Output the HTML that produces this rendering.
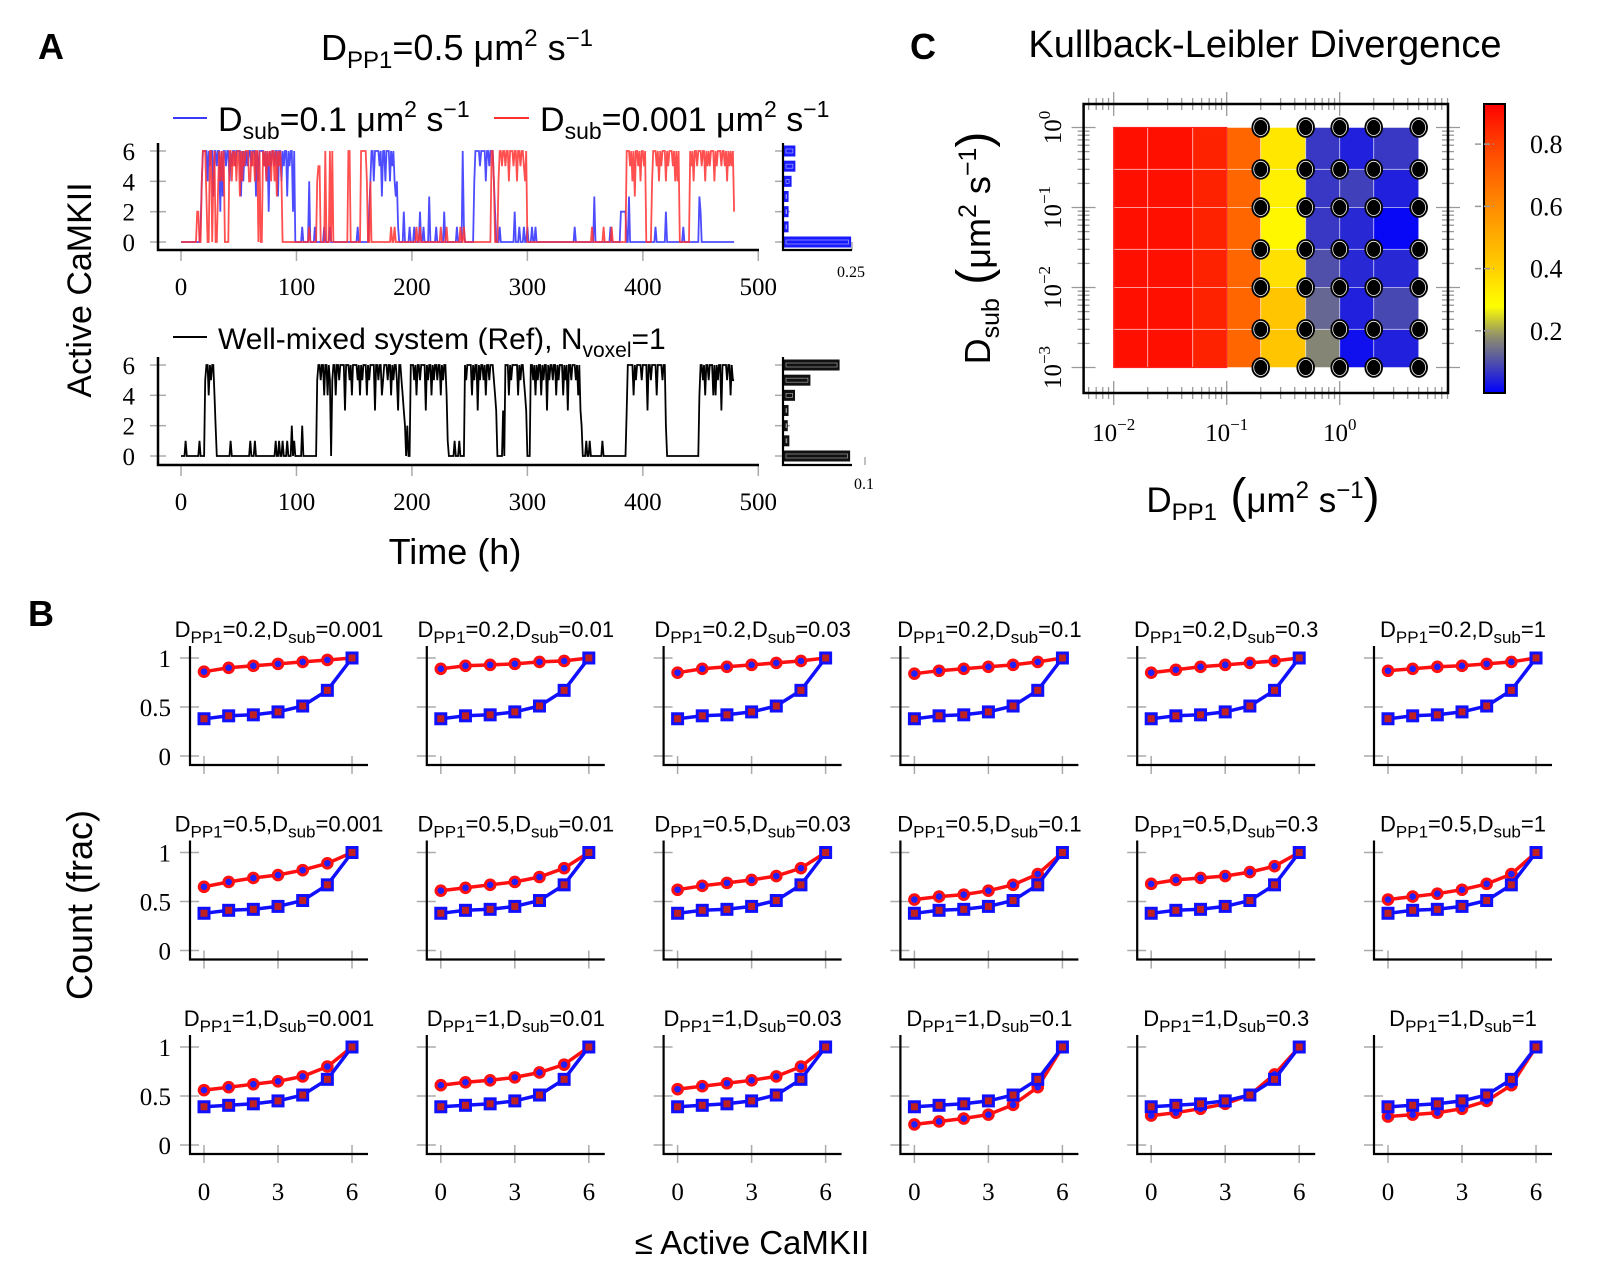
<!DOCTYPE html>
<html><head><meta charset="utf-8">
<style>
body{margin:0;background:#fff;}
svg{display:block;}
text{font-family:"Liberation Sans",sans-serif;fill:#000;}
.serif{font-family:"Liberation Serif",serif;}
</style></head>
<body>
<svg id="fig" width="1622" height="1281" viewBox="0 0 1622 1281">
<rect width="1622" height="1281" fill="#fff"/>

<!-- Panel A static text -->
<text x="38" y="59" font-size="36" font-weight="bold">A</text>
<text x="457" y="60" font-size="36" text-anchor="middle">D<tspan font-size="24" dy="8">PP1</tspan><tspan dy="-8">=0.5 μm</tspan><tspan font-size="24" dy="-14">2</tspan><tspan dy="14"> s</tspan><tspan font-size="24" dy="-14">−1</tspan></text>
<line x1="173" y1="118" x2="207" y2="118" stroke="#3a3aff" stroke-width="2"/>
<text x="218" y="131" font-size="34">D<tspan font-size="23" dy="8">sub</tspan><tspan dy="-8">=0.1 μm</tspan><tspan font-size="23" dy="-14">2</tspan><tspan dy="14"> s</tspan><tspan font-size="23" dy="-14">−1</tspan></text>
<line x1="494" y1="118" x2="529" y2="118" stroke="#ff3030" stroke-width="2"/>
<text x="540" y="131" font-size="34">D<tspan font-size="23" dy="8">sub</tspan><tspan dy="-8">=0.001 μm</tspan><tspan font-size="23" dy="-14">2</tspan><tspan dy="14"> s</tspan><tspan font-size="23" dy="-14">−1</tspan></text>
<line x1="173" y1="337" x2="207" y2="337" stroke="#000" stroke-width="2"/>
<text x="218" y="349" font-size="30">Well-mixed system (Ref), N<tspan font-size="21" dy="8">voxel</tspan><tspan dy="-8">=1</tspan></text>
<text transform="translate(91,290) rotate(-90)" font-size="34" text-anchor="middle">Active CaMKII</text>
<text x="455" y="564" font-size="36" text-anchor="middle">Time (h)</text>
<text x="851" y="277" font-size="16" text-anchor="middle" class="serif">0.25</text>
<text x="864" y="489" font-size="16" text-anchor="middle" class="serif">0.1</text>

<!-- Panel C static text -->
<text x="910" y="59" font-size="36" font-weight="bold">C</text>
<text x="1265" y="57" font-size="38" text-anchor="middle">Kullback-Leibler Divergence</text>
<text transform="translate(990,248) rotate(-90)" font-size="36" text-anchor="middle">D<tspan font-size="25" dy="9">sub</tspan><tspan dy="-9" font-size="48"> (</tspan><tspan>μm</tspan><tspan font-size="25" dy="-14">2</tspan><tspan dy="14"> s</tspan><tspan font-size="25" dy="-14">−1</tspan><tspan dy="14" font-size="48">)</tspan></text>
<text x="1263" y="512" font-size="35" text-anchor="middle">D<tspan font-size="24" dy="8">PP1</tspan><tspan dy="-8" font-size="48"> (</tspan><tspan>μm</tspan><tspan font-size="24" dy="-14">2</tspan><tspan dy="14"> s</tspan><tspan font-size="24" dy="-14">−1</tspan><tspan dy="14" font-size="48">)</tspan></text>

<!-- Panel B static text -->
<text x="28" y="626" font-size="36" font-weight="bold">B</text>
<text transform="translate(92,905) rotate(-90)" font-size="36" text-anchor="middle">Count (frac)</text>
<text x="752" y="1254" font-size="33" text-anchor="middle">≤ Active CaMKII</text>

<defs>
<linearGradient id="cbgrad" x1="0" y1="1" x2="0" y2="0"></linearGradient>
</defs>
</svg>

<script>
// ---------- Panel A data ----------
const blueStr = "0000000000"+"0000000146"+"6664656636"+"6566263665"+"6646566566"+"6636465656"+"6566636466"+"6656462656"+"6566366465"+"6636566260"+
"0000010000"+"0400001000"+"0000100001"+"0000000000"+"0000000000"+"0001000000"+"0002466466"+"6656366466"+"6465643410"+"0002000010"+
"0010000200"+"1000030000"+"0100000020"+"0000000001"+"0000610000"+"0000466665"+"6666466566"+"6420001000"+"0000000002"+"0001000100"+
"1000100100"+"0000000000"+"0000000000"+"0000000000"+"0100000000"+"0000000030"+"0000000000"+"0010000000"+"0222220030"+"0000000000"+
"0000000000"+"0100000000"+"2000000000"+"0000010000"+"0000000003"+"2000000000"+"0000000000"+"0000000000";
const redStr = "0000000000"+"0000220046"+"6630066046"+"0036464600"+"0066465646"+"6364656664"+"4656466060"+"0656465646"+"6463656400"+"0000000000"+
"0000000000"+"0100000045"+"5000060006"+"0600000000"+"0000066000"+"0000006666"+"6400400000"+"0000000000"+"0010010000"+"0000000000"+
"0000100100"+"0000000000"+"0000010000"+"1000000000"+"0010010000"+"0000000000"+"0000000006"+"6400046656"+"6566466656"+"6466566546"+
"0000000000"+"0000000000"+"0000000000"+"0000000000"+"0000000000"+"0000001000"+"0000001000"+"0001000000"+"0000006665"+"6463665646"+
"6560000046"+"6656465666"+"4656665646"+"4600000000"+"0656466566"+"6566465656"+"6646566656"+"6564656562";
const blackStr = "0000100000"+"0000001000"+"0566465664"+"2000000000"+"0001000000"+"0000000000"+"1000100000"+"0000000000"+"0010010010"+"0010002010"+
"0000020000"+"0000000056"+"6566466465"+"0566466566"+"6636665646"+"6665646566"+"6465666636"+"6566456665"+"6646566536"+"6543202006"+
"6656466566"+"6636566465"+"6656646566"+"4100000100"+"0100006566"+"6646566365"+"6656466566"+"6543000003"+"0666465666"+"6646566543"+
"0006656465"+"6646566365"+"6656646566"+"6465636656"+"6656463200"+"0100100000"+"0000010000"+"0000000000"+"0000003666"+"6646566665"+
"6666366566"+"6646666566"+"2000000000"+"0000000000"+"0000000004"+"6656466566"+"6464656636"+"6665664655";
const histLevels = [0,1,2,3,4,5,6];
const blueHist = [0.245,0.015,0.015,0.015,0.026,0.04,0.04];
const blackHist = [0.081,0.006,0.004,0.005,0.013,0.032,0.068];
const timeTicks = [0,100,200,300,400,500];
const levelTicks = [0,2,4,6];

// ---------- Panel B data ----------
const bDpp1 = ["0.2","0.5","1"];
const bDsub = ["0.001","0.01","0.03","0.1","0.3","1"];
const bLevels = [0,1,2,3,4,5,6];
const bXTicks = [0,3,6];
const bYTicks = [0,0.5,1];
const bYTickLabels = ["0","0.5","1"];
const blueCumRow1 = [0.38,0.41,0.42,0.45,0.51,0.67,1.0];
const blueCumRow2 = [0.38,0.41,0.42,0.45,0.51,0.67,1.0];
const blueCumRow3 = [0.39,0.405,0.42,0.45,0.51,0.67,1.0];
const redCumRow1 = [
 [0.86,0.90,0.92,0.94,0.96,0.98,1.0],
 [0.89,0.92,0.93,0.94,0.96,0.97,1.0],
 [0.85,0.89,0.91,0.93,0.95,0.97,1.0],
 [0.84,0.87,0.89,0.91,0.93,0.96,1.0],
 [0.85,0.88,0.91,0.93,0.95,0.97,1.0],
 [0.87,0.89,0.91,0.92,0.94,0.96,1.0]];
const redCumRow2 = [
 [0.65,0.70,0.74,0.77,0.82,0.89,1.0],
 [0.61,0.64,0.67,0.70,0.75,0.84,1.0],
 [0.62,0.66,0.69,0.72,0.76,0.84,1.0],
 [0.52,0.55,0.57,0.61,0.67,0.78,1.0],
 [0.68,0.72,0.74,0.76,0.80,0.86,1.0],
 [0.52,0.55,0.58,0.62,0.68,0.78,1.0]];
const redCumRow3 = [
 [0.56,0.59,0.62,0.65,0.70,0.80,1.0],
 [0.61,0.64,0.66,0.69,0.74,0.82,1.0],
 [0.57,0.60,0.63,0.66,0.70,0.80,1.0],
 [0.21,0.24,0.27,0.31,0.41,0.59,1.0],
 [0.30,0.33,0.37,0.42,0.51,0.72,1.0],
 [0.29,0.31,0.33,0.37,0.45,0.61,1.0]];

// ---------- Panel C data ----------
const klX = [0.01,0.02,0.05,0.1,0.2,0.5,1,2,5];
const klY = [0.001,0.003,0.01,0.03,0.1,0.3,1];
const klRow1 = [0.9,0.9,0.86,0.7,0.43,0.17,0.02,0.04];   // Dsub 0.001-0.003
const klRow2 = [0.9,0.9,0.86,0.7,0.43,0.13,0.04,0.09];
const klRow3 = [0.9,0.9,0.86,0.7,0.36,0.10,0.05,0.05];
const klRow4 = [0.9,0.9,0.86,0.7,0.30,0.07,0.05,0.01];
const klRow5 = [0.9,0.9,0.86,0.7,0.32,0.07,0.08,0.04];
const klRow6 = [0.9,0.9,0.86,0.7,0.34,0.07,0.04,0.07];   // Dsub 0.3-1
const dotX = [0.2,0.5,1,2,5];
const dotY = [0.001,0.003,0.01,0.03,0.1,0.3,1];
const cbTicks = [0.2,0.4,0.6,0.8];
const cbLabels = ["0.2","0.4","0.6","0.8"];
const xDecades = [-2,-1,0];
const yDecades = [-3,-2,-1,0];

const NS = "http://www.w3.org/2000/svg";
const svg = document.getElementById("fig");
function mk(tag, attrs, parent){
  const e = document.createElementNS(NS, tag);
  for (const k in attrs) e.setAttribute(k, attrs[k]);
  (parent || svg).appendChild(e);
  return e;
}
function grp(){ return mk("g", {}); }

// ================= PANEL A =================
const xA = t => 181 + t * 1.1546;
const yTop = v => 242 - v * (91/6);
const yBot = v => 456 - v * (91/6);

function drawAxesA(yf, axisTop, axisY, name){
  const g = grp();
  
  
  timeTicks.forEach(t => {
    const l = mk("line", {x1:xA(t), x2:xA(t), y1:axisY, y2:axisY+11, stroke:"#aaa", "stroke-width":1.5}, g);
    
    
    const tx = mk("text", {x:xA(t), y:axisY+45, "font-size":25, "text-anchor":"middle", class:"serif"}, g);
    
    
    tx.textContent = t;
  });
  levelTicks.forEach(v => {
    const l = mk("line", {x1:150, x2:166, y1:yf(v), y2:yf(v), stroke:"#aaa", "stroke-width":1.5}, g);
    
    
    const tx = mk("text", {x:135, y:yf(v)+9, "font-size":25, "text-anchor":"end", class:"serif"}, g);
    
    
    tx.textContent = v;
  });
  const ax = mk("path", {d:`M158 ${axisTop} V${axisY} H759`, fill:"none", stroke:"#000", "stroke-width":2.5}, g);
  
  
}
drawAxesA(yTop, 143, 250, 'top-timeseries-axes');
drawAxesA(yBot, 357, 465, 'bottom-timeseries-axes');

function seriesPts(str, yf){
  const pts = [];
  for (let i = 0; i < str.length; i++) pts.push(xA(i).toFixed(1) + "," + yf(+str[i]).toFixed(1));
  return pts.join(" ");
}
const bl = mk("polyline", {points:seriesPts(blueStr, yTop), fill:"none", stroke:"#3a3aff", "stroke-width":1.8, "stroke-opacity":0.9, "stroke-linejoin":"miter"});


const rl = mk("polyline", {points:seriesPts(redStr, yTop), fill:"none", stroke:"#ff3030", "stroke-width":1.8, "stroke-opacity":0.85});


const kl = mk("polyline", {points:seriesPts(blackStr, yBot), fill:"none", stroke:"#000", "stroke-width":1.8});



// histograms
function drawHist(vals, yf, axisTop, axisY, scalePx, tickVal, color, name){
  const g = grp();
  
  
  const hx = p => 784 + p * scalePx;
  levelTicks.forEach(v => {
    const l = mk("line", {x1:775, x2:790, y1:yf(v), y2:yf(v), stroke:"#aaa", "stroke-width":1.5}, g);
    
    
  });
  const tk = mk("line", {x1:hx(tickVal), x2:hx(tickVal), y1:axisY-8, y2:axisY, stroke:"#aaa", "stroke-width":1.5}, g);
  
  
  histLevels.forEach((lv, i) => {
    const r = mk("rect", {x:784, y:yf(lv)-5, width:Math.max(hx(vals[i])-784,3), height:10, fill:color, stroke:color, "stroke-width":1}, g);
    
    
    const ir = mk("rect", {x:786, y:yf(lv)-2, width:Math.max(hx(vals[i])-788,0.5), height:4, fill:"none", stroke:"#fff", "stroke-width":0.6, "stroke-opacity":0.7}, g);
    
    
  });
  const ax = mk("path", {d:`M783 ${axisTop} V${axisY} H852`, fill:"none", stroke:"#000", "stroke-width":2.2}, g);
  
  
}
drawHist(blueHist, yTop, 143, 250, 272, 0.25, "#1a1aff", 'top-histogram');
drawHist(blackHist, yBot, 357, 465, 810, 0.1, "#111", 'bottom-histogram');

// ================= PANEL B =================
const redRows = [redCumRow1, redCumRow2, redCumRow3];
const blueRows = [blueCumRow1, blueCumRow2, blueCumRow3];
for (let r = 0; r < 3; r++) {
  for (let c = 0; c < 6; c++) {
    const left = 190 + c * 236.8;
    const y1 = 658 + r * 194.5;
    const xs = v => left + 14 + v * 24.67;
    const ys = p => y1 + 98 - p * 98;
    const axisY = y1 + 107;
    const g = grp();
    
    
    const t = mk("text", {x:left+89, y:y1-21, "font-size":22, "text-anchor":"middle"}, g);
    
    
    t.innerHTML = 'D<tspan font-size="17" dy="6">PP1</tspan><tspan dy="-6">=' + bDpp1[r] + ',D</tspan><tspan font-size="17" dy="6">sub</tspan><tspan dy="-6">=' + bDsub[c] + '</tspan>';
    bYTicks.forEach((p, k) => {
      const l = mk("line", {x1:left-10, x2:left+9, y1:ys(p), y2:ys(p), stroke:"#aaa", "stroke-width":1.5}, g);
      
      
      if (c === 0) {
        const tx = mk("text", {x:left-19, y:ys(p)+9, "font-size":25, "text-anchor":"end", class:"serif"}, g);
        
        
        tx.textContent = bYTickLabels[k];
      }
    });
    bXTicks.forEach(v => {
      const l = mk("line", {x1:xs(v), x2:xs(v), y1:axisY-9, y2:axisY+9, stroke:"#aaa", "stroke-width":1.5}, g);
      
      
      if (r === 2) {
        const tx = mk("text", {x:xs(v), y:1200, "font-size":25, "text-anchor":"middle", class:"serif"}, g);
        
        
        tx.textContent = v;
      }
    });
    const ax = mk("path", {d:`M${left} ${y1-12} V${axisY} H${left+178}`, fill:"none", stroke:"#000", "stroke-width":2.2}, g);
    
    
    const red = redRows[r][c];
    const blue = blueRows[r];
    const rp = bLevels.map((lv,i) => xs(lv).toFixed(1)+","+ys(red[i]).toFixed(1)).join(" ");
    const rl2 = mk("polyline", {points:rp, fill:"none", stroke:"#ff1010", "stroke-width":3.5}, g);
    
    
    bLevels.forEach((lv,i) => {
      const cc = mk("circle", {cx:xs(lv), cy:ys(red[i]), r:4.8, fill:"#2020ff", stroke:"#ff1010", "stroke-width":3}, g);
      
      
    });
    const bp = bLevels.map((lv,i) => xs(lv).toFixed(1)+","+ys(blue[i]).toFixed(1)).join(" ");
    const bl2 = mk("polyline", {points:bp, fill:"none", stroke:"#1010ff", "stroke-width":3.5}, g);
    
    
    bLevels.forEach((lv,i) => {
      const sq = mk("rect", {x:xs(lv)-5, y:ys(blue[i])-5, width:10, height:10, fill:"#c02020", stroke:"#1010ff", "stroke-width":3}, g);
      
      
    });
  }
}

// ================= PANEL C =================
const cmapStops = [[0,0,0,255],[0.1,80,80,170],[0.18,140,140,110],[0.28,255,255,0],[0.42,255,200,0],[0.6,255,140,0],[0.8,255,64,0],[0.93,255,0,0]];
function cmap(v){
  if (v <= cmapStops[0][0]) return `rgb(${cmapStops[0][1]},${cmapStops[0][2]},${cmapStops[0][3]})`;
  for (let i = 1; i < cmapStops.length; i++) {
    if (v <= cmapStops[i][0]) {
      const a = cmapStops[i-1], b = cmapStops[i];
      const f = (v - a[0]) / (b[0] - a[0]);
      return `rgb(${Math.round(a[1]+f*(b[1]-a[1]))},${Math.round(a[2]+f*(b[2]-a[2]))},${Math.round(a[3]+f*(b[3]-a[3]))})`;
    }
  }
  const l = cmapStops[cmapStops.length-1];
  return `rgb(${l[1]},${l[2]},${l[3]})`;
}
const hxC = d => 1113.7 + (Math.log10(d) + 2) * 113;
const hyC = d => 127.5 - Math.log10(d) * 80;
const FX0 = 1083.6, FX1 = 1448, FY0 = 104, FY1 = 393;

const klRows = [klRow1, klRow2, klRow3, klRow4, klRow5, klRow6];
const hg = grp();


klRows.forEach((row, j) => {
  row.forEach((v, i) => {
    const x0 = hxC(klX[i]), x1 = hxC(klX[i+1]);
    const y0 = hyC(klY[j+1]), y1 = hyC(klY[j]);
    const cell = mk("rect", {x:x0, y:y0, width:x1-x0, height:y1-y0, fill:cmap(v), stroke:"#fff", "stroke-width":1, "stroke-opacity":0.45}, hg);
    
    
  });
});
const outline = mk("rect", {x:hxC(klX[0]), y:hyC(klY[klY.length-1]), width:hxC(klX[3])-hxC(klX[0]), height:hyC(klY[0])-hyC(klY[klY.length-1]), fill:"none", stroke:"#ff2020", "stroke-width":1.2});



const tg = grp();


for (let d = -3; d <= 1; d++) {
  for (let k = 1; k <= 9; k++) {
    const val = k * Math.pow(10, d);
    const len = k === 1 ? 12 : 6;
    const px = hxC(val);
    if (px >= FX0 && px <= FX1) {
      [FY0, FY1].forEach(yy => {
        const l = mk("line", {x1:px, x2:px, y1:yy-len, y2:yy+len, stroke:"#999", "stroke-width":1.3}, tg);
        
        
      });
    }
    const py = hyC(val);
    if (py >= FY0 && py <= FY1) {
      [FX0, FX1].forEach(xx => {
        const l = mk("line", {x1:xx-len, x2:xx+len, y1:py, y2:py, stroke:"#999", "stroke-width":1.3}, tg);
        
        
      });
    }
  }
}
const frame = mk("rect", {x:FX0, y:FY0, width:FX1-FX0, height:FY1-FY0, fill:"none", stroke:"#000", "stroke-width":2.5});



const dg = grp();


dotX.forEach(dx => dotY.forEach(dy => {
  const e = mk("ellipse", {cx:hxC(dx), cy:hyC(dy), rx:8.5, ry:9.5, fill:"#000", stroke:"#000", "stroke-width":1.5}, dg);
  
  
  const e2 = mk("ellipse", {cx:hxC(dx), cy:hyC(dy), rx:7, ry:8, fill:"none", stroke:"#fff", "stroke-width":0.8}, dg);
  
  
}));

xDecades.forEach(d => {
  const tx = mk("text", {x:hxC(Math.pow(10,d)), y:441, "font-size":25, "text-anchor":"middle", class:"serif"});
  
  
  tx.innerHTML = '10<tspan font-size="17" dy="-11">' + (d < 0 ? '−' + (-d) : d) + '</tspan>';
});
yDecades.forEach(d => {
  const tx = mk("text", {"font-size":25, "text-anchor":"middle", class:"serif", transform:`translate(1061,${hyC(Math.pow(10,d))}) rotate(-90)`});
  
  
  tx.innerHTML = '10<tspan font-size="17" dy="-11">' + (d < 0 ? '−' + (-d) : d) + '</tspan>';
});

const CB_X = 1484, CB_W = 21, CB_Y0 = 104, CB_Y1 = 393, CB_MAX = 0.929;
const cbY = v => CB_Y1 - v / CB_MAX * (CB_Y1 - CB_Y0);
const grad = document.getElementById("cbgrad");
for (let i = 0; i <= 40; i++) {
  const v = i / 40 * CB_MAX;
  const s = mk("stop", {offset:(i/40).toFixed(3), "stop-color":cmap(v)}, grad);
  
  
}
const cb = mk("rect", {x:CB_X, y:CB_Y0, width:CB_W, height:CB_Y1-CB_Y0, fill:"url(#cbgrad)", stroke:"#000", "stroke-width":2});


cbTicks.forEach((v, i) => {
  const l = mk("line", {x1:CB_X-9, x2:CB_X+10, y1:cbY(v), y2:cbY(v), stroke:"#999", "stroke-width":1.5, "stroke-dasharray":"6,3"});
  
  
  const tx = mk("text", {x:1530, y:cbY(v)+9, "font-size":26, class:"serif"});
  
  
  tx.textContent = cbLabels[i];
});
</script>
</body></html>
